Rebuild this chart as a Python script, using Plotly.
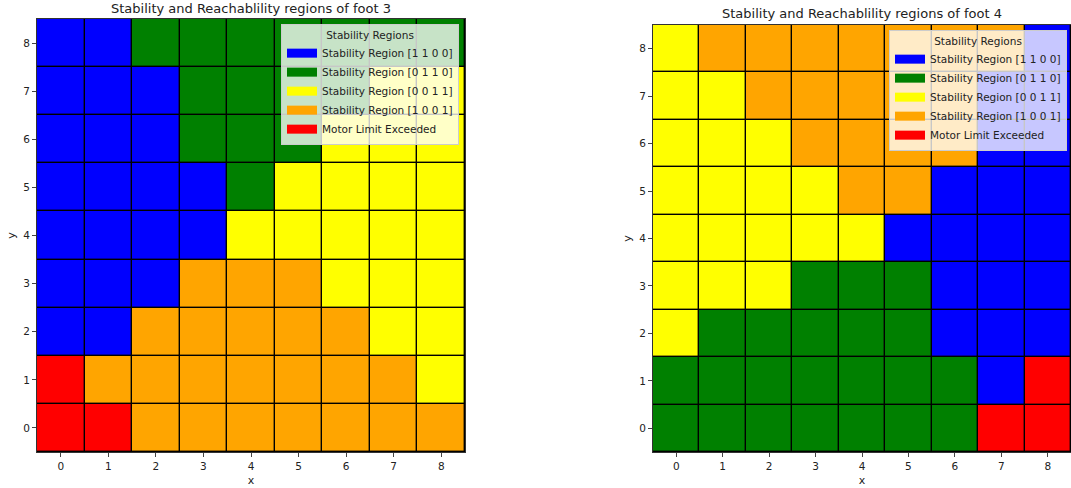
import plotly.graph_objects as go

# Region codes: 0..4 index into REGION_NAMES / REGION_COLORS
REGION_NAMES = [
    "Stability Region [1 1 0 0]",
    "Stability Region [0 1 1 0]",
    "Stability Region [0 0 1 1]",
    "Stability Region [1 0 0 1]",
    "Motor Limit Exceeded",
]
REGION_COLORS = ["#0000ff", "#008000", "#ffff00", "#ffa500", "#ff0000"]

GRID_X = [0, 1, 2, 3, 4, 5, 6, 7, 8]
GRID_Y = [0, 1, 2, 3, 4, 5, 6, 7, 8]

# Rows listed from y=8 (top) down to y=0 (bottom); columns x=0..8
FOOT3_ROWS = [
    [0, 0, 1, 1, 1, 1, 1, 1, 1],
    [0, 0, 0, 1, 1, 1, 1, 2, 2],
    [0, 0, 0, 1, 1, 1, 2, 2, 2],
    [0, 0, 0, 0, 1, 2, 2, 2, 2],
    [0, 0, 0, 0, 2, 2, 2, 2, 2],
    [0, 0, 0, 3, 3, 3, 2, 2, 2],
    [0, 0, 3, 3, 3, 3, 3, 2, 2],
    [4, 3, 3, 3, 3, 3, 3, 3, 2],
    [4, 4, 3, 3, 3, 3, 3, 3, 3],
]
FOOT4_ROWS = [
    [2, 3, 3, 3, 3, 3, 3, 3, 0],
    [2, 2, 3, 3, 3, 3, 3, 0, 0],
    [2, 2, 2, 3, 3, 3, 3, 0, 0],
    [2, 2, 2, 2, 3, 3, 0, 0, 0],
    [2, 2, 2, 2, 2, 0, 0, 0, 0],
    [2, 2, 2, 1, 1, 1, 0, 0, 0],
    [2, 1, 1, 1, 1, 1, 0, 0, 0],
    [1, 1, 1, 1, 1, 1, 1, 0, 4],
    [1, 1, 1, 1, 1, 1, 1, 4, 4],
]

FONT = "DejaVu Sans"
n = len(REGION_COLORS)
colorscale = []
for i, c in enumerate(REGION_COLORS):
    colorscale.append([i / n, c])
    colorscale.append([(i + 1) / n, c])

fig = go.Figure()

panels = [
    (FOOT3_ROWS, "x", "y", "legend", "Stability and Reachablility regions of foot 3"),
    (FOOT4_ROWS, "x2", "y2", "legend2", "Stability and Reachablility regions of foot 4"),
]

for rows, xa, ya, lg, _ in panels:
    z = rows[::-1]  # bottom row first so y=0 sits at the bottom
    fig.add_trace(go.Heatmap(
        x=GRID_X, y=GRID_Y, z=z,
        zmin=-0.5, zmax=n - 0.5,
        colorscale=colorscale, showscale=False,
        xgap=1.4, ygap=1.4,
        xaxis=xa, yaxis=ya, hoverinfo="skip",
    ))
    for name, color in zip(REGION_NAMES, REGION_COLORS):
        fig.add_trace(go.Scatter(
            x=[None], y=[None], mode="lines",
            line=dict(color=color, width=9),
            name=name, legend=lg, showlegend=True,
            xaxis=xa, yaxis=ya,
        ))

axis_common = dict(
    range=[-0.5, 8.5],
    tickmode="array", tickvals=GRID_X,
    ticks="outside", ticklen=4, tickwidth=1, tickcolor="#444",
    showgrid=False, zeroline=False,
    showline=True, linecolor="#333", linewidth=1, mirror=True,
    tickfont=dict(family=FONT, size=10.5, color="#222"),
)

legend_common = dict(
    title=dict(text="Stability Regions", side="top center", font=dict(size=10.5)),
    xanchor="right", yanchor="top",
    bgcolor="rgba(255,255,255,0.78)", bordercolor="#cccccc", borderwidth=1,
    font=dict(family=FONT, size=10.5, color="#222"),
    tracegroupgap=0, itemwidth=30,
)

W, H = 1071, 488
fig.update_layout(
    width=W, height=H,
    margin=dict(l=0, r=0, t=0, b=0),
    paper_bgcolor="white",
    plot_bgcolor="black",
    font=dict(family=FONT, size=10, color="#222"),
    xaxis=dict(axis_common, domain=[37 / W, 465 / W], anchor="y",
               title=dict(text="x", standoff=5, font=dict(size=11))),
    yaxis=dict(axis_common, domain=[1 - 452 / H, 1 - 19 / H], anchor="x",
               title=dict(text="y", standoff=5, font=dict(size=11))),
    xaxis2=dict(axis_common, domain=[653 / W, 1.0], anchor="y2",
                title=dict(text="x", standoff=5, font=dict(size=11))),
    yaxis2=dict(axis_common, domain=[1 - 452 / H, 1 - 25 / H], anchor="x2",
                title=dict(text="y", standoff=5, font=dict(size=11))),
    legend=dict(legend_common, x=459 / W, y=1 - 24 / H),
    legend2=dict(legend_common, x=1067 / W, y=1 - 30 / H),
    annotations=[
        dict(text=panels[0][4], xref="paper", yref="paper",
             x=251 / W, y=1 - 9 / H, xanchor="center", yanchor="middle",
             showarrow=False, font=dict(family=FONT, size=13, color="#222")),
        dict(text=panels[1][4], xref="paper", yref="paper",
             x=862 / W, y=1 - 14 / H, xanchor="center", yanchor="middle",
             showarrow=False, font=dict(family=FONT, size=13, color="#222")),
    ],
)

fig.write_html("out.html")
